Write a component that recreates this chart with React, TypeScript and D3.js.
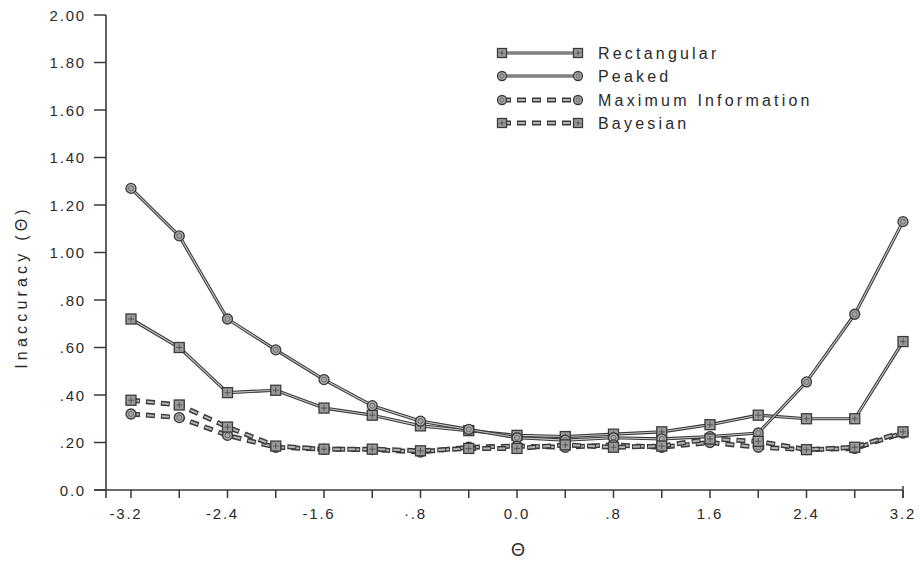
import React from "react";
import * as d3 from "d3";

const thetaValues = [-3.2, -2.8, -2.4, -2.0, -1.6, -1.2, -0.8, -0.4, 0.0, 0.4, 0.8, 1.2, 1.6, 2.0, 2.4, 2.8, 3.2];
const rectangular = [0.72, 0.60, 0.41, 0.42, 0.345, 0.315, 0.27, 0.25, 0.23, 0.225, 0.235, 0.245, 0.275, 0.315, 0.30, 0.30, 0.625];
const peaked = [1.27, 1.07, 0.72, 0.59, 0.465, 0.355, 0.29, 0.255, 0.22, 0.21, 0.22, 0.215, 0.225, 0.24, 0.455, 0.74, 1.13];
const maxInfo = [0.32, 0.305, 0.23, 0.18, 0.172, 0.17, 0.16, 0.18, 0.185, 0.18, 0.19, 0.18, 0.2, 0.18, 0.17, 0.175, 0.24];
const bayesian = [0.378, 0.358, 0.265, 0.185, 0.172, 0.172, 0.165, 0.175, 0.175, 0.19, 0.18, 0.185, 0.215, 0.205, 0.17, 0.18, 0.245];

const yTicks = [0, 0.2, 0.4, 0.6, 0.8, 1.0, 1.2, 1.4, 1.6, 1.8, 2.0];
const yTickLabels = ["0.0", ".20", ".40", ".60", ".80", "1.00", "1.20", "1.40", "1.60", "1.80", "2.00"];
const xTicks = [-3.2, -2.8, -2.4, -2.0, -1.6, -1.2, -0.8, -0.4, 0.0, 0.4, 0.8, 1.2, 1.6, 2.0, 2.4, 2.8, 3.2];
const xLabelTicks = [-3.2, -2.4, -1.6, -0.8, 0.0, 0.8, 1.6, 2.4, 3.2];
const xTickLabels = ["-3.2", "-2.4", "-1.6", "-.8", "0.0", ".8", "1.6", "2.4", "3.2"];

const seriesNames = ["Rectangular", "Peaked", "Maximum  Information", "Bayesian"];
const seriesData = [rectangular, peaked, maxInfo, bayesian];
const seriesMarker = ["square", "circle", "circle", "square"];
const seriesDashed = [false, false, true, true];

const W = 920;
const H = 563;
const FONT = "Liberation Sans, Arial, Helvetica, sans-serif";
const INK = "#3a3a3a";
const TXT = "#2a2a2a";

export default function App() {
  const x = d3.scaleLinear().domain([-3.2, 3.2]).range([131, 903]);
  const y = d3.scaleLinear().domain([0, 2]).range([490, 15]);
  const line = d3
    .line<number>()
    .x((_, i) => x(thetaValues[i]))
    .y((d) => y(d));

  const drawMarker = (kind: string, cx: number, cy: number, key: string, r = 5) =>
    kind === "square" ? (
      <g key={key}>
        <rect x={cx - r} y={cy - r} width={2 * r} height={2 * r} fill="#9a9a9a" stroke={INK} strokeWidth={1.3} />
        <path d={`M${cx - r + 2},${cy}h${2 * r - 4}M${cx},${cy - r + 2}v${2 * r - 4}`} stroke="#555" strokeWidth={1} />
      </g>
    ) : (
      <g key={key}>
        <circle cx={cx} cy={cy} r={r} fill="#a5a5a5" stroke={INK} strokeWidth={1.3} />
        <circle cx={cx} cy={cy} r={r - 2.5} fill="none" stroke="#666" strokeWidth={0.9} />
      </g>
    );

  const drawLine = (pathD: string, dashed: boolean, key: string) =>
    dashed ? (
      <g key={key}>
        <path d={pathD} fill="none" stroke={INK} strokeWidth={5} strokeDasharray="9 6" />
        <path d={pathD} fill="none" stroke="#b5b5b5" strokeWidth={2} strokeDasharray="7 8" strokeDashoffset={-1} />
      </g>
    ) : (
      <g key={key}>
        <path d={pathD} fill="none" stroke={INK} strokeWidth={3.2} strokeLinejoin="round" />
        <path d={pathD} fill="none" stroke="#c8c8c8" strokeWidth={1.1} strokeLinejoin="round" />
      </g>
    );

  const legendX0 = 502;
  const legendX1 = 578;
  const legendY = [53, 76, 100, 123];

  return (
    <svg width={W} height={H} style={{ display: "block", position: "absolute", left: 0, top: 0, background: "#fff" }}>
      <rect width={W} height={H} fill="#fff" />
      {/* Y axis */}
      <line x1={106} x2={106} y1={y(2)} y2={498} stroke={INK} strokeWidth={1.6} />
      {yTicks.map((t, i) => (
        <g key={"yt" + i}>
          <line x1={94} x2={106} y1={y(t)} y2={y(t)} stroke={INK} strokeWidth={1.5} />
          <text
            x={86}
            y={y(t)}
            textAnchor="end"
            dominantBaseline="central"
            fontFamily={FONT}
            fontSize={15}
            letterSpacing={1.8}
            fill={TXT}
          >
            {yTickLabels[i]}
          </text>
        </g>
      ))}
      {/* X axis */}
      <line x1={94} x2={903} y1={490} y2={490} stroke={INK} strokeWidth={1.6} />
      <line x1={903} x2={903} y1={486} y2={498} stroke={INK} strokeWidth={1.5} />
      {xTicks.map((t, i) => (
        <line key={"xt" + i} x1={x(t)} x2={x(t)} y1={490} y2={498} stroke={INK} strokeWidth={1.5} />
      ))}
      {xLabelTicks.map((t, i) => {
        const lab = xTickLabels[i];
        const neg = lab.startsWith("-");
        const isDot = lab === "-.8";
        return (
          <text
            key={"xl" + i}
            x={x(t) - (neg ? 5 : 0)}
            y={513}
            textAnchor="middle"
            dominantBaseline="central"
            fontFamily={FONT}
            fontSize={15}
            letterSpacing={1.8}
            fill={TXT}
          >
            {isDot ? "·.8" : lab.replace("-", "- ").replace("- ", "-")}
          </text>
        );
      })}
      <text x={518} y={550} textAnchor="middle" dominantBaseline="central" fontFamily={FONT} fontSize={18} fill={TXT}>
        Θ
      </text>
      <text
        transform={`translate(21,287) rotate(-90)`}
        textAnchor="middle"
        dominantBaseline="central"
        fontFamily={FONT}
        fontSize={16}
        letterSpacing={4.2}
        fill={TXT}
      >
        Inaccuracy (Θ)
      </text>

      {/* Series */}
      {seriesData.map((data, s) => drawLine(line(data) || "", seriesDashed[s], "l" + s))}
      {seriesData.map((data, s) =>
        data.map((v, i) => drawMarker(seriesMarker[s], x(thetaValues[i]), y(v), `m${s}-${i}`))
      )}

      {/* Legend */}
      {seriesNames.map((name, s) => (
        <g key={"lg" + s}>
          {drawLine(`M${legendX0},${legendY[s]}L${legendX1},${legendY[s]}`, seriesDashed[s], "lgl" + s)}
          {drawMarker(seriesMarker[s], legendX0, legendY[s], "lgm0" + s, 4.5)}
          {drawMarker(seriesMarker[s], legendX1, legendY[s], "lgm1" + s, 4.5)}
          <text
            x={598}
            y={legendY[s]}
            dominantBaseline="central"
            fontFamily={FONT}
            fontSize={16}
            letterSpacing={3.2}
            fill={TXT}
          >
            {name.replace("  ", " ")}
          </text>
        </g>
      ))}
    </svg>
  );
}
